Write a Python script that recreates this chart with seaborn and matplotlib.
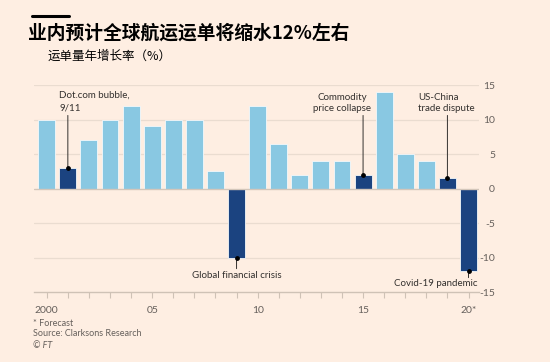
import matplotlib
matplotlib.use("Agg")
import matplotlib.pyplot as plt
import seaborn as sns

# === Data ===
years = [str(y) for y in range(2000, 2021)]
growth = [10, 3, 7, 10, 12, 9, 10, 10, 2.5, -10, 12, 6.5, 2, 4, 4, 2, 14, 5, 4, 1.5, -12]
highlight = ["2001", "2009", "2015", "2019", "2020"]
tick_labels = ["2000", "05", "10", "15", "20*"]
y_ticks = [-15, -10, -5, 0, 5, 10, 15]

# === Style ===
bg = "#FEEEE2"
light = "#89C8E2"
dark = "#1B4380"
grid_col = "#EADCD0"
text_col = "#33302E"
grey = "#66605C"

sns.set_theme(style="white")
plt.rcParams["font.family"] = ["Lato", "DejaVu Sans"]

fig = plt.figure(figsize=(5.5, 3.62), dpi=100, facecolor=bg)
ax = fig.add_axes([0.062, 0.193, 0.809, 0.572], facecolor=bg)

colors = [dark if y in highlight else light for y in years]
sns.barplot(x=years, y=growth, hue=years, palette=colors, legend=False, saturation=1,
            width=0.8, edgecolor="#F4F8FA", linewidth=0.6, ax=ax, zorder=3)

ax.set_ylim(-15, 15)
ax.set_xlim(-0.6, 20.5)
ax.set_yticks(y_ticks)
ax.set_yticklabels([str(v) for v in y_ticks])
ax.yaxis.tick_right()
ax.tick_params(axis="y", length=0, pad=11.5, labelsize=7.5, labelcolor=grey)
for lbl in ax.get_yticklabels():
    lbl.set_horizontalalignment("right")
for v in y_ticks:
    if v == 0:
        ax.axhline(v, color="#D3C6BA", lw=1.0, zorder=4)
    elif v != -15:
        ax.axhline(v, color=grid_col, lw=0.9, zorder=1)

ax.set_xticks(range(len(years)))
labels = ["" for _ in years]
for i, t in zip(range(0, 21, 5), tick_labels):
    labels[i] = t
ax.set_xticklabels(labels)
ax.tick_params(axis="x", length=4, width=0.8, color="#CFC2B6", direction="out",
               pad=6, labelsize=7.5, labelcolor=grey, bottom=True)

for s in ["top", "left", "right"]:
    ax.spines[s].set_visible(False)
ax.spines["bottom"].set_color("#CFC2B6")
ax.spines["bottom"].set_linewidth(1.0)
ax.set_xlabel("")
ax.set_ylabel("")

# === Annotations ===
line_kw = dict(arrowstyle="-", color=text_col, lw=0.7, shrinkA=0, shrinkB=0)
dot_kw = dict(s=6, color="black", zorder=7)


def mark(year, y_from):
    i = years.index(year)
    ax.annotate("", xy=(i, growth[i]), xytext=(i, y_from), arrowprops=line_kw, zorder=6)
    ax.scatter([i], [growth[i]], **dot_kw)
    return i


i = mark("2001", 10.6)
ax.text(i - 0.4, 11.0, "Dot.com bubble,\n9/11", ha="left", va="bottom",
        linespacing=1.5, fontsize=7, color=text_col)

i = mark("2015", 10.6)
ax.text(i - 1.0, 11.0, "Commodity\nprice collapse", ha="center", va="bottom",
        linespacing=1.2, fontsize=7, color=text_col)

i = mark("2019", 10.6)
ax.text(i - 1.4, 11.0, "US-China\ntrade dispute", ha="left", va="bottom",
        linespacing=1.2, fontsize=7, color=text_col)

i = mark("2009", -11.6)
ax.text(i, -12.6, "Global financial crisis", ha="center", va="center", fontsize=7, color=text_col)

i = mark("2020", -12.9)
ax.text(i + 0.42, -13.8, "Covid-19 pandemic", ha="right", va="center", fontsize=7, color=text_col)

# === Titles and footer ===
cjk = ["Noto Sans CJK SC", "DejaVu Sans"]
fig.add_artist(plt.Line2D([32 / 550, 69 / 550], [1 - 16 / 362, 1 - 16 / 362],
                          color="black", lw=2.2))
fig.text(28 / 550, 1 - 33 / 362, "业内预计全球航运运单将缩水12%左右", family=cjk,
         fontsize=13.5, fontweight="bold", color="black", va="center", ha="left")
fig.text(48 / 550, 1 - 56 / 362, "运单量年增长率（%）", family=cjk,
         fontsize=9, fontweight="medium", color="black", va="center", ha="left")

fig.text(33 / 550, 1 - 324 / 362, "* Forecast", fontsize=6.5, color=grey, va="center")
fig.text(33 / 550, 1 - 334 / 362, "Source: Clarksons Research", fontsize=6.5, color=grey, va="center")
fig.text(33 / 550, 1 - 346 / 362, "© FT", fontsize=6.5, color=grey, va="center", style="italic")

fig.savefig("out.png", dpi=100, facecolor=bg)
